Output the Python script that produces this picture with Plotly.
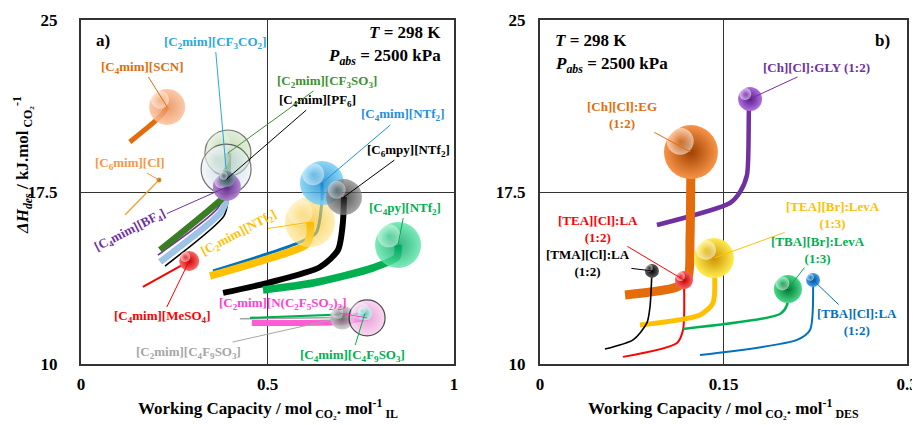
import plotly.graph_objects as go

SERIF = "Liberation Serif, Times New Roman, serif"

# ---------------- Panel a) ionic liquids ----------------
IL_LABELS = [
    "[C<sub>6</sub>mim][Cl]", "[C<sub>4</sub>mim][SCN]", "[C<sub>4</sub>mim][PF<sub>6</sub>]",
    "[C<sub>4</sub>mim][BF<sub>4</sub>]", "[C<sub>2</sub>mim][CF<sub>3</sub>CO<sub>2</sub>]",
    "[C<sub>2</sub>mim][CF<sub>3</sub>SO<sub>3</sub>]", "[C<sub>4</sub>mim][MeSO<sub>4</sub>]",
    "[C<sub>4</sub>mim][NTf<sub>2</sub>]", "[C<sub>2</sub>mim][NTf<sub>2</sub>]",
    "[C<sub>6</sub>mpy][NTf<sub>2</sub>]", "[C<sub>4</sub>py][NTf<sub>2</sub>]",
    "[C<sub>2</sub>mim][N(C<sub>2</sub>F<sub>5</sub>SO<sub>2</sub>)<sub>2</sub>]",
    "[C<sub>2</sub>mim][C<sub>4</sub>F<sub>9</sub>SO<sub>3</sub>]",
    "[C<sub>4</sub>mim][C<sub>4</sub>F<sub>9</sub>SO<sub>3</sub>]",
]
IL_WC = [
    [0.118, 0.209],
    [0.131, 0.193, 0.220, 0.231],
    [0.225, 0.383, 0.394, 0.391],
    [0.206, 0.367, 0.391],
    [0.212, 0.373, 0.389, 0.389],
    [0.212, 0.359, 0.386, 0.394],
    [0.166, 0.290],
    [0.354, 0.568, 0.630, 0.646, 0.646],
    [0.346, 0.534, 0.603, 0.615, 0.614],
    [0.381, 0.499, 0.641, 0.689, 0.702, 0.705],
    [0.488, 0.622, 0.783, 0.847, 0.850],
    [0.458, 0.694, 0.767],
    [0.426, 0.700],
    [0.453, 0.761],
]
IL_DH = [
    [16.50, 18.02],
    [19.68, 20.51, 20.94, 21.21],
    [14.27, 16.45, 17.15, 18.07],
    [14.75, 16.80, 17.72],
    [14.45, 16.58, 17.15, 18.50],
    [14.97, 16.93, 17.37, 19.20],
    [13.36, 14.49],
    [14.06, 15.19, 15.71, 17.15, 17.89],
    [13.84, 14.75, 15.19, 15.71, 16.19],
    [13.10, 13.53, 14.23, 14.97, 16.15, 17.28],
    [13.23, 13.53, 14.19, 14.67, 15.19],
    [11.79, 11.83, 12.01],
    [11.97, 12.03],
    [12.01, 12.20],
]
# label anchor positions (text centres) in axis units
IL_LAB_X = [0.131, 0.164, 0.635, 0.131, 0.359, 0.660, 0.217, 0.861, 0.421, 0.877, 0.869, 0.539, 0.287, 0.727]
IL_LAB_Y = [18.76, 22.95, 21.51, 15.84, 24.04, 22.34, 12.05, 20.86, 15.71, 19.33, 16.80, 12.66, 10.52, 10.39]
IL_LAB_ANGLE = [0, 0, 0, -27, 0, 0, 0, 0, -28, 0, 0, 0, 0, 0]

IL_LINE_COLOR = ["#F0A030", "#E46C0A", "#000000", "#7030A0", "#9DC3E6", "#3A7D22", "#FF0000",
                 "#0070C0", "#FFC000", "#000000", "#00B050", "#FF5CD6", "#A6A6A6", "#00B050"]
IL_LINE_W = [1.3, 5, 1.6, 1.6, 6.5, 6.5, 2, 3, 7.5, 6, 7.5, 6, 1.6, 2.2]
IL_LAB_COLOR = ["#F79646", "#E46C0A", "#000000", "#7030A0", "#29A8E0", "#3F8F2F", "#FF0000",
                "#1E90E0", "#FFC000", "#000000", "#00B050", "#FF40D0", "#A6A6A6", "#00B050"]
IL_BALL_IN = ["#E0A040", "#FBC09A", "#7A95A0", "#B080D0", "#E8F0F6", "#CDE3BC", "#FF6A6A",
              "#7AD0F6", "#FFE590", "#8A8A8A", "#5AE6A8", "#F8C8EC", "#C8C8C8", "#C8F4F0"]
IL_BALL_OUT = ["#B06010", "#E88A50", "#2E4650", "#5A1E86", "#A9C3D3", "#8DB57A", "#C80000",
               "#1A88CC", "#F2B400", "#1A1A1A", "#00A060", "#E07AC8", "#5A5A5A", "#60B8B8"]
IL_BALL_SIZE = [5, 36, 16, 28, 50, 46, 20, 44, 50, 36, 46, 36, 24, 14]
IL_BALL_OPAC = [1, 0.85, 0.95, 0.95, 0.55, 0.55, 1, 0.85, 0.65, 0.75, 0.8, 0.7, 0.85, 0.9]
IL_BALL_EDGE = [0, 0, 0, 0, 1.2, 1.2, 0, 0, 0, 0, 0, 1.2, 0, 0]
IL_BALL_ORDER = [1, 0, 5, 4, 3, 2, 6, 8, 7, 9, 10, 12, 11, 13]

# ---------------- Panel b) deep eutectic solvents ----------------
DES_LABELS = ["[Ch][Cl]:GLY (1:2)", "[Ch][Cl]:EG<br>(1:2)", "[TEA][Cl]:LA<br>(1:2)",
              "[TEA][Br]:LevA<br>(1:3)", "[TMA][Cl]:LA<br>(1:2)", "[TBA][Br]:LevA<br>(1:3)",
              "[TBA][Cl]:LA<br>(1:2)"]
DES_WC = [
    [0.0956, 0.1553, 0.1635, 0.1692, 0.1708, 0.1717],
    [0.0695, 0.1120, 0.1210, 0.1226, 0.1234],
    [0.0678, 0.1120, 0.1169, 0.1177],
    [0.0817, 0.1308, 0.1414, 0.1422],
    [0.0531, 0.0760, 0.0874, 0.0899, 0.0915],
    [0.1169, 0.1962, 0.2019, 0.2027],
    [0.1308, 0.2101, 0.2207, 0.2232],
]
DES_DH = [
    [16.06, 17.02, 17.50, 18.24, 21.08, 21.56],
    [13.01, 13.36, 13.79, 15.41, 19.24],
    [10.31, 10.92, 11.48, 13.66],
    [11.70, 12.14, 12.66, 14.62],
    [10.65, 11.05, 11.79, 12.49, 14.06],
    [11.53, 12.18, 12.57, 13.27],
    [10.39, 11.05, 11.48, 13.66],
]
DES_LAB_X = [0.2264, 0.0670, 0.0474, 0.2394, 0.0392, 0.2272, 0.2590]
DES_LAB_Y = [22.91, 20.86, 15.89, 16.50, 14.40, 14.97, 11.83]
DES_LINE_COLOR = ["#7030A0", "#E46C0A", "#FF0000", "#FFC000", "#000000", "#00B050", "#0070C0"]
DES_LINE_W = [4.5, 9, 2, 5, 1.6, 2.5, 2]
DES_LAB_COLOR = ["#7030A0", "#E46C0A", "#FF0000", "#FFC000", "#000000", "#00B050", "#0070C0"]
DES_BALL_IN = ["#B070E0", "#F89448", "#FF6060", "#FFEC50", "#5A5A5A", "#48D888", "#40A0EE"]
DES_BALL_OUT = ["#561A88", "#A04000", "#C00000", "#CC9200", "#000000", "#007430", "#004C8C"]
DES_BALL_SIZE = [24, 54, 18, 40, 14, 28, 14]

# page body has an 8px margin: lay the figure out in window pixels minus that offset
OFF = 8
W, H = 920 - OFF, 425 - OFF


def px(xp):
    return (xp - OFF) / W


def py(yp):
    return (H - (yp - OFF)) / H


# plot boxes in window pixels
A_LEFT, A_RIGHT, B_LEFT, B_RIGHT, TOP, BOT = 81, 454, 540, 907, 20, 364

fig = go.Figure()


def add_panel(wc, dh, lcol, lw, bin_, bout, bsize, order, xa, ya, xspan, opac=None, edge=None):
    ux = xspan / ((A_RIGHT - A_LEFT) if xa == "x" else (B_RIGHT - B_LEFT))  # data per pixel
    uy = 15.0 / (BOT - TOP)
    for i in range(len(wc)):
        fig.add_trace(go.Scatter(x=wc[i], y=dh[i], mode="lines", xaxis=xa, yaxis=ya,
                                 line=dict(color=lcol[i], width=lw[i], shape="spline", smoothing=0.7),
                                 showlegend=False, hoverinfo="skip"))
    for i in order:
        op = opac[i] if opac else 1
        fig.add_trace(go.Scatter(
            x=[wc[i][-1]], y=[dh[i][-1]], mode="markers", xaxis=xa, yaxis=ya,
            marker=dict(size=bsize[i], color=bin_[i], opacity=op,
                        gradient=dict(type="radial", color=bout[i]),
                        line=dict(color="#000000", width=(edge[i] if edge else 0))),
            showlegend=False, hoverinfo="skip"))
        if bsize[i] >= 12:
            s = bsize[i]
            fig.add_trace(go.Scatter(
                x=[wc[i][-1] - 0.2 * s * ux], y=[dh[i][-1] + 0.2 * s * uy], mode="markers",
                xaxis=xa, yaxis=ya,
                marker=dict(size=0.5 * s, color="rgba(255,255,255,%.2f)" % (0.55 * op),
                            gradient=dict(type="radial", color="rgba(255,255,255,0)"),
                            line=dict(width=0)),
                showlegend=False, hoverinfo="skip"))


add_panel(IL_WC, IL_DH, IL_LINE_COLOR, IL_LINE_W, IL_BALL_IN, IL_BALL_OUT, IL_BALL_SIZE,
          IL_BALL_ORDER, "x", "y", 1.0, IL_BALL_OPAC, IL_BALL_EDGE)
add_panel(DES_WC, DES_DH, DES_LINE_COLOR, DES_LINE_W, DES_BALL_IN, DES_BALL_OUT, DES_BALL_SIZE,
          list(range(len(DES_WC))), "x2", "y2", 0.3)

ann = []
for i, lab in enumerate(IL_LABELS):
    ann.append(dict(x=IL_WC[i][-1], y=IL_DH[i][-1], xref="x", yref="y",
                    ax=IL_LAB_X[i], ay=IL_LAB_Y[i], axref="x", ayref="y",
                    text="<b>" + lab + "</b>", showarrow=True, arrowhead=0, arrowwidth=1,
                    arrowcolor=IL_LAB_COLOR[i], standoff=0, textangle=IL_LAB_ANGLE[i],
                    font=dict(family=SERIF, size=13, color=IL_LAB_COLOR[i])))
for i, lab in enumerate(DES_LABELS):
    ann.append(dict(x=DES_WC[i][-1], y=DES_DH[i][-1], xref="x2", yref="y2",
                    ax=DES_LAB_X[i], ay=DES_LAB_Y[i], axref="x2", ayref="y2",
                    text="<b>" + lab + "</b>", showarrow=True, arrowhead=0, arrowwidth=1,
                    arrowcolor=DES_LAB_COLOR[i], standoff=0,
                    font=dict(family=SERIF, size=13, color=DES_LAB_COLOR[i])))

big = dict(family=SERIF, size=17, color="#000000")

ann += [
    dict(x=px(443), y=py(33), xref="paper", yref="paper", xanchor="right", yanchor="middle",
         text="<b><i>T</i> = 298 K</b>", showarrow=False, font=big),
    dict(x=px(443), y=py(57), xref="paper", yref="paper", xanchor="right", yanchor="middle",
         text="<b><i>P<sub>abs</sub></i> = 2500 kPa</b>", showarrow=False, font=big),
    dict(x=px(553), y=py(41), xref="paper", yref="paper", xanchor="left", yanchor="middle",
         text="<b><i>T</i> = 298 K</b>", showarrow=False, font=big),
    dict(x=px(553), y=py(65), xref="paper", yref="paper", xanchor="left", yanchor="middle",
         text="<b><i>P<sub>abs</sub></i> = 2500 kPa</b>", showarrow=False, font=big),
    dict(x=px(94), y=py(41), xref="paper", yref="paper", xanchor="left", yanchor="middle",
         text="<b>a)</b>", showarrow=False, font=big),
    dict(x=px(892), y=py(41), xref="paper", yref="paper", xanchor="right", yanchor="middle",
         text="<b>b)</b>", showarrow=False, font=big),
    dict(x=px(268), y=py(408), xref="paper", yref="paper", xanchor="center", yanchor="middle",
         text="<b>Working Capacity / mol<sub> CO₂</sub>. mol<sup>-1</sup><sub> IL</sub></b>",
         showarrow=False, font=big),
    dict(x=px(723), y=py(408), xref="paper", yref="paper", xanchor="center", yanchor="middle",
         text="<b>Working Capacity / mol<sub> CO₂</sub>. mol<sup>-1</sup><sub> DES</sub></b>",
         showarrow=False, font=big),
    dict(x=px(22), y=py(165), xref="paper", yref="paper", xanchor="center", yanchor="middle",
         textangle=-90,
         text="<b><i>ΔH<sub>des</sub></i> / kJ.mol<sub> CO₂</sub><sup>-1</sup></b>",
         showarrow=False, font=big),
]

axcommon = dict(showline=True, mirror=True, linecolor="#333333", linewidth=2, automargin=False,
                showgrid=True, gridcolor="#333333", gridwidth=1, zeroline=False, ticks="",
                tickfont=dict(family=SERIF, size=17, color="#000000"))

ydom = [py(BOT), py(TOP)]
fig.update_layout(
    width=W, height=H, margin=dict(l=0, r=0, t=0, b=0, autoexpand=False),
    paper_bgcolor="white", plot_bgcolor="white", showlegend=False,
    xaxis=dict(domain=[px(A_LEFT), px(A_RIGHT)], range=[0, 1], tickvals=[0, 0.5, 1],
               ticktext=["<b>0</b>", "<b>0.5</b>", "<b>1</b>"], anchor="y",
               ticklabelstandoff=4, **axcommon),
    yaxis=dict(domain=ydom, range=[10, 25], tickvals=[10, 17.5, 25],
               ticktext=["<b>10</b>", "<b>17.5</b>", "<b>25</b>"], anchor="x",
               ticklabelstandoff=18, **axcommon),
    xaxis2=dict(domain=[px(B_LEFT), px(B_RIGHT)], range=[0, 0.3], tickvals=[0, 0.15, 0.3],
                ticktext=["<b>0</b>", "<b>0.15</b>", "<b>0.3</b>"], anchor="y2",
                ticklabelstandoff=4, **axcommon),
    yaxis2=dict(domain=ydom, range=[10, 25], tickvals=[10, 17.5, 25],
                ticktext=["<b>10</b>", "<b>17.5</b>", "<b>25</b>"], anchor="x2",
                ticklabelstandoff=9, **axcommon),
    annotations=ann,
)

fig.write_html("out.html")
